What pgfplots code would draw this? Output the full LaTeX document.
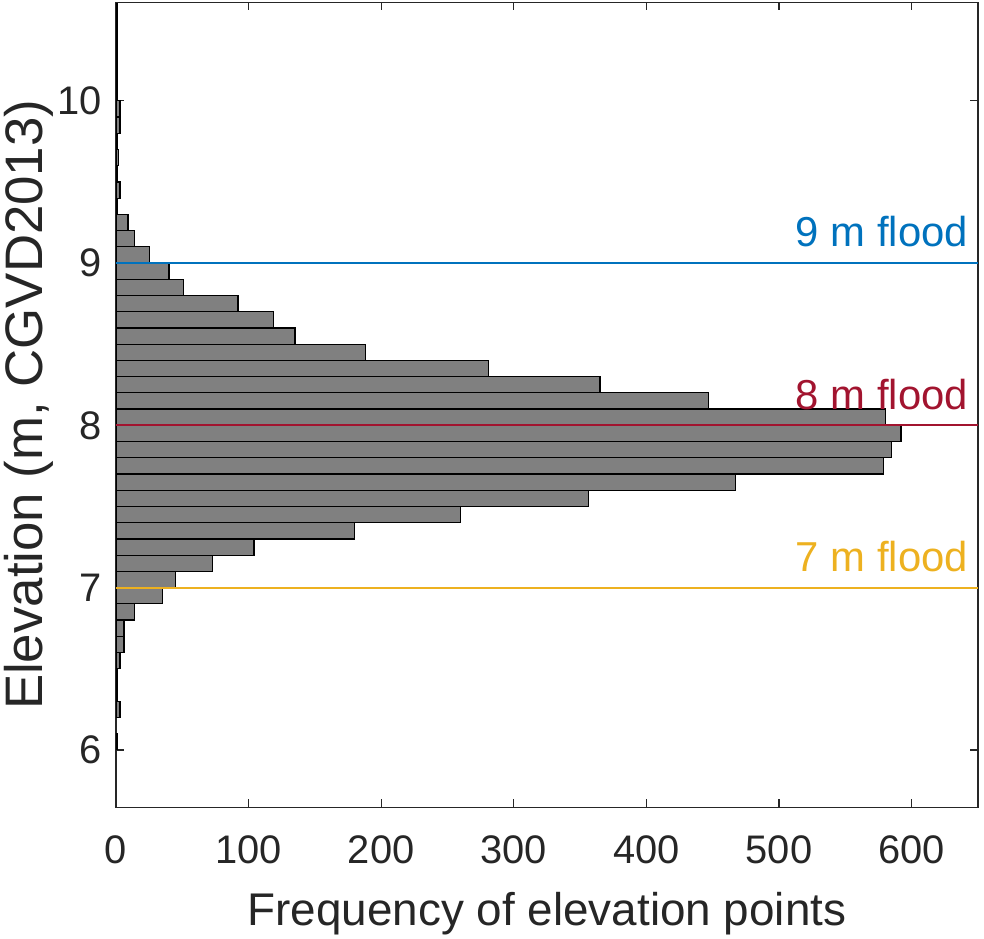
\documentclass[border=0pt]{standalone}
\usepackage{pgfplots}
\pgfplotsset{compat=1.18}
\usepackage{fontspec}
\setmainfont{Liberation Sans}
\definecolor{axgray}{RGB}{38,38,38}
\definecolor{floodblue}{RGB}{0,114,189}
\definecolor{floodred}{RGB}{162,20,47}
\definecolor{floodyellow}{RGB}{237,177,32}
\definecolor{barfill}{RGB}{128,128,128}
\pgfplotstableread{
y count
10.55 1
10.45 1
10.35 1
10.25 1
10.15 1
10.05 1
9.95 3
9.85 3
9.75 1
9.65 2
9.55 1
9.45 3
9.35 1
9.25 9
9.15 14
9.05 25
8.95 40
8.85 51
8.75 92
8.65 119
8.55 135
8.45 188
8.35 281
8.25 365
8.15 447
8.05 580
7.95 592
7.85 585
7.75 579
7.65 467
7.55 356
7.45 260
7.35 180
7.25 104
7.15 73
7.05 45
6.95 35
6.85 14
6.75 6
6.65 6
6.55 3
6.45 1
6.35 1
6.25 3
6.05 1
}\histdata
\pgfplotstableread{
x y
0 9
650 9
}\nineline
\pgfplotstableread{
x y
0 8
650 8
}\eightline
\pgfplotstableread{
x y
0 7
650 7
}\sevenline
\begin{document}
\begin{tikzpicture}
\begin{axis}[
  at={(116bp,131.7bp)}, anchor=south west,
  scale only axis, width=862bp, height=805bp,
  xmin=0, xmax=650, ymin=5.646, ymax=10.607,
  xtick={0,100,...,600}, ytick={6,7,8,9,10},
  tick align=inside, major tick length=8bp,
  axis line style={axgray, line width=1.3bp},
  every tick/.style={axgray, line width=1.3bp},
  /pgf/number format/assume math mode=true,
  scaled ticks=false,
  every tick label/.append style={font=\fontsize{40}{48}\selectfont, text=axgray},
  xticklabel style={yshift=-25bp},
  yticklabel style={xshift=-11bp},
  xlabel={Frequency of elevation points},
  ylabel={Elevation (m, CGVD2013)},
  xlabel style={font=\fontsize{46}{54}\selectfont, text=axgray, at={(axis description cs:0.5,0)}, anchor=base, yshift=-117.7bp},
  ylabel style={font=\fontsize{53}{60}\selectfont, text=axgray, at={(axis description cs:-0.0858,0.5)}, anchor=base},
]
\addplot[xbar, bar width=0.1, bar shift=0pt, fill=barfill, draw=black, line width=1.2bp]
  table[x=count, y=y] {\histdata};
\addplot[draw=floodblue, line width=2bp, mark=none] table[x=x, y=y] {\nineline};
\addplot[draw=floodred, line width=2bp, mark=none] table[x=x, y=y] {\eightline};
\addplot[draw=floodyellow, line width=2bp, mark=none] table[x=x, y=y] {\sevenline};
\node[anchor=base east, inner sep=0pt, text=floodblue, font=\fontsize{42}{50}\selectfont] at (axis cs:642.5,9.1) {9 m flood};
\node[anchor=base east, inner sep=0pt, text=floodred, font=\fontsize{42}{50}\selectfont] at (axis cs:642.5,8.1) {8 m flood};
\node[anchor=base east, inner sep=0pt, text=floodyellow, font=\fontsize{42}{50}\selectfont] at (axis cs:642.5,7.1) {7 m flood};
\end{axis}
\pgfresetboundingbox
\useasboundingbox (0,0) rectangle (984bp,939bp);
\end{tikzpicture}
\end{document}
